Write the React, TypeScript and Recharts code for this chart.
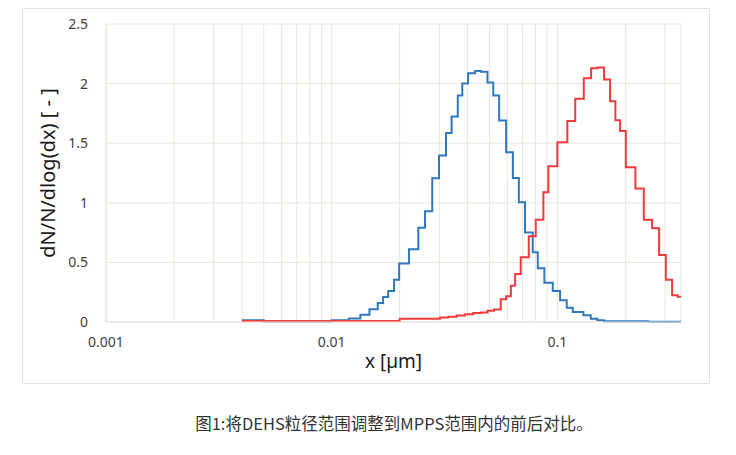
import { CartesianGrid, Line, LineChart, XAxis, YAxis } from "recharts";

// bin edges (µm) and dN/N/dlog(dx) per bin
const blueEdges = [
  0.004, 0.005, 0.01, 0.0119, 0.0134, 0.0147, 0.016, 0.0169, 0.0178, 0.0189, 0.0199, 0.022, 0.0242, 0.0259,
  0.0279, 0.0299, 0.0321, 0.034, 0.0362, 0.0379, 0.0402, 0.0432, 0.0459, 0.049, 0.052, 0.0552, 0.0593, 0.0635,
  0.0675, 0.0719, 0.0778, 0.0819, 0.0876, 0.0954, 0.1028, 0.11, 0.117, 0.1304, 0.1406, 0.1504, 0.161, 0.253, 0.353,
];
const blueValues = [
  0.015, 0.005, 0.015, 0.03, 0.06, 0.107, 0.16, 0.21, 0.26, 0.355, 0.49, 0.61, 0.79, 0.93, 1.206, 1.397, 1.585,
  1.723, 1.9, 2.0, 2.086, 2.105, 2.1, 2.01, 1.9, 1.69, 1.425, 1.209, 1.004, 0.75, 0.585, 0.45, 0.33, 0.26, 0.183,
  0.12, 0.084, 0.056, 0.028, 0.014, 0.006, 0.002,
];

const redEdges = [
  0.004, 0.02, 0.0302, 0.0329, 0.0358, 0.039, 0.0424, 0.0459, 0.049, 0.0524, 0.0561, 0.0593, 0.0622, 0.065,
  0.0688, 0.0747, 0.0802, 0.0867, 0.0912, 0.1, 0.1107, 0.12, 0.1309, 0.1411, 0.1507, 0.161, 0.1712, 0.1807,
  0.1896, 0.201, 0.2217, 0.2415, 0.2629, 0.2823, 0.3023, 0.3224, 0.341, 0.353,
];
const redValues = [
  0.008, 0.028, 0.037, 0.045, 0.055, 0.065, 0.075, 0.08, 0.095, 0.105, 0.19, 0.217, 0.304, 0.402, 0.543, 0.72,
  0.858, 1.088, 1.307, 1.507, 1.687, 1.872, 2.045, 2.128, 2.135, 2.035, 1.852, 1.692, 1.602, 1.299, 1.119, 0.858,
  0.787, 0.562, 0.355, 0.225, 0.211,
];

const xTicks = [
  0.001, 0.002, 0.003, 0.004, 0.005, 0.006, 0.007, 0.008, 0.009, 0.01, 0.02, 0.03, 0.04, 0.05, 0.06, 0.07, 0.08,
  0.09, 0.1, 0.2, 0.3,
];
const xLabels = [0.001, 0.01, 0.1];
const yTicks = [0, 0.5, 1, 1.5, 2, 2.5];

const caption = "图1:将DEHS粒径范围调整到MPPS范围内的前后对比。";

function steps(edges: number[], values: number[]) {
  return edges.map((x, i) => ({ x, y: values[Math.min(i, values.length - 1)] }));
}

const blueData = steps(blueEdges, blueValues);
const redData = steps(redEdges, redValues);

const grid = "#e8e5dc";
const font = "'Noto Sans', sans-serif";

export default function App() {
  return (
    <div style={{ position: "absolute", left: 0, top: 0, width: 736, height: 455, background: "#fff", fontFamily: font }}>
      <div
        style={{
          position: "absolute",
          left: 22,
          top: 8,
          width: 686,
          height: 374,
          border: "1px solid #e3e1da",
        }}
      />
      <div style={{ position: "absolute", left: 0, top: 0 }}>
        <LineChart width={736} height={400} margin={{ top: 24, right: 55, left: 46, bottom: 48 }}>
          <CartesianGrid stroke={grid} strokeWidth={1} />
          <XAxis
            dataKey="x"
            type="number"
            scale="log"
            domain={[0.001, 0.353]}
            allowDataOverflow
            ticks={xTicks}
            interval={0}
            tickFormatter={(v: number) => (xLabels.some((l) => Math.abs(l - v) < 1e-9) ? String(v) : "")}
            tick={{ fontSize: 14, fill: "#404040", fontFamily: font }}
            tickLine={false}
            tickSize={6}
            tickMargin={9}
            axisLine={{ stroke: grid }}
            height={30}
            label={{ value: "x [µm]", position: "insideBottom", offset: -16, fontSize: 19, fill: "#1a1a1a", fontFamily: font }}
          />
          <YAxis
            type="number"
            domain={[0, 2.5]}
            ticks={yTicks}
            tick={{ fontSize: 14, fill: "#404040", fontFamily: font }}
            tickLine={false}
            tickSize={6}
            tickMargin={12}
            axisLine={{ stroke: grid }}
            width={60}
            label={{
              value: "dN/N/dlog(dx) [ - ]",
              angle: -90,
              position: "insideLeft",
              offset: 2,
              style: { textAnchor: "middle", fontSize: 20, fill: "#1a1a1a", fontFamily: font },
            }}
          />
          <Line
            data={blueData}
            dataKey="y"
            type="stepAfter"
            stroke="#2e78bd"
            strokeWidth={2}
            dot={false}
            isAnimationActive={false}
          />
          <Line
            data={redData}
            dataKey="y"
            type="stepAfter"
            stroke="#ef3a3d"
            strokeWidth={2}
            dot={false}
            isAnimationActive={false}
          />
        </LineChart>
      </div>
      <div
        style={{
          position: "absolute",
          left: 26,
          width: 736,
          top: 411,
          textAlign: "center",
          fontSize: 16.5,
          color: "#333",
          fontFamily: "'Noto Sans CJK SC', 'Noto Sans', sans-serif",
        }}
      >
        {caption}
      </div>
    </div>
  );
}
